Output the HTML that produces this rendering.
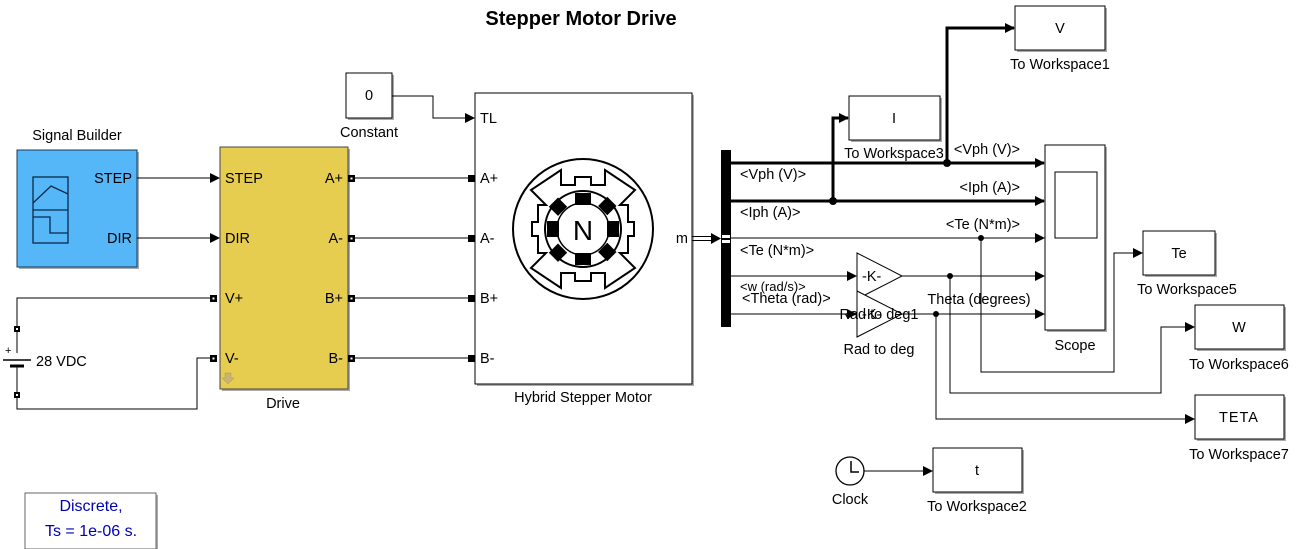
<!DOCTYPE html>
<html><head><meta charset="utf-8"><style>
html,body{margin:0;padding:0;background:#fff;}
svg{display:block;font-family:"Liberation Sans",Arial,sans-serif;}
text{font-size:14.5px;fill:#000;}
</style></head><body>
<svg width="1296" height="549" viewBox="0 0 1296 549" xmlns="http://www.w3.org/2000/svg">
<defs>
<marker id="a" markerWidth="10" markerHeight="10" refX="9" refY="5" orient="auto" markerUnits="userSpaceOnUse"><path d="M0,0 L10,5 L0,10 z" fill="#000"/></marker>
</defs>
<text x="581" y="25" text-anchor="middle" font-weight="bold" style="font-size:20px">Stepper Motor Drive</text>

<!-- shadows -->
<g fill="#aaa">
<rect x="19" y="152" width="120" height="117"/>
<rect x="222" y="149" width="128" height="242"/>
<rect x="477" y="95" width="217" height="291"/>
<rect x="348" y="75" width="46" height="45"/>
<rect x="1017" y="8" width="90" height="44"/>
<rect x="851" y="98" width="91" height="44"/>
<rect x="1047" y="147" width="60" height="185"/>
<rect x="1145" y="233" width="72" height="44"/>
<rect x="1197" y="307" width="89" height="44"/>
<rect x="1197" y="397" width="89" height="44"/>
<rect x="935" y="450" width="89" height="44"/>
<rect x="27" y="495" width="131" height="56"/>
</g>

<!-- Signal builder -->
<rect x="17" y="150" width="120" height="117" fill="#55b6f8" stroke="#1a3a5a"/>
<g stroke="#0a2a4a" fill="none" stroke-width="1.3">
<rect x="33" y="177" width="35" height="66"/>
<line x1="33" y1="210" x2="68" y2="210"/>
<polyline points="33,203 51,186 68,194"/>
<polyline points="33,217 50,217 50,233 68,233"/>
</g>
<text x="77" y="140" text-anchor="middle">Signal Builder</text>
<text x="132" y="183" text-anchor="end" fill="#0a2a4a">STEP</text>
<text x="132" y="243" text-anchor="end" fill="#0a2a4a">DIR</text>

<!-- Drive -->
<rect x="220" y="147" width="128" height="242" fill="#e6cd50" stroke="#444"/>
<text x="225" y="183">STEP</text>
<text x="225" y="243">DIR</text>
<text x="225" y="303">V+</text>
<text x="225" y="363">V-</text>
<text x="343" y="183" text-anchor="end">A+</text>
<text x="343" y="243" text-anchor="end">A-</text>
<text x="343" y="303" text-anchor="end">B+</text>
<text x="343" y="363" text-anchor="end">B-</text>
<path d="M225,373 h6 v5 h3 l-6,6 l-6,-6 h3 z" fill="#c8b470" stroke="#a89860" stroke-width="0.5"/>
<text x="283" y="408" text-anchor="middle">Drive</text>

<!-- wires drive in -->
<g stroke="#000" fill="none" stroke-width="1">
<line x1="137" y1="178" x2="219" y2="178" marker-end="url(#a)"/>
<line x1="137" y1="238" x2="219" y2="238" marker-end="url(#a)"/>
<polyline points="210,298 17,298 17,327"/>
<polyline points="210,358 197,358 197,409 17,409 17,396"/>
<line x1="17" y1="331" x2="17" y2="353"/>
<line x1="17" y1="365" x2="17" y2="392"/>
<line x1="3" y1="360" x2="31" y2="360" stroke-width="1.5"/>
<line x1="10" y1="366" x2="24" y2="366" stroke-width="3"/>
</g>
<text x="5" y="354" style="font-size:11px">+</text>
<text x="36" y="366">28 VDC</text>
<g fill="#000">
<rect x="14" y="326" width="6" height="6"/><rect x="14" y="392" width="6" height="6"/>
<rect x="210" y="295" width="7" height="7"/><rect x="210" y="355" width="7" height="7"/>
</g>
<g fill="#fff"><rect x="16" y="328" width="2" height="2"/><rect x="16" y="394" width="2" height="2"/>
<rect x="212.5" y="297.5" width="2" height="2"/><rect x="212.5" y="357.5" width="2" height="2"/></g>

<!-- drive to motor -->
<g stroke="#000" stroke-width="1">
<line x1="355" y1="178" x2="470" y2="178"/>
<line x1="355" y1="238" x2="470" y2="238"/>
<line x1="355" y1="298" x2="470" y2="298"/>
<line x1="355" y1="358" x2="470" y2="358"/>
</g>
<g fill="#000">
<rect x="348" y="175" width="7" height="7"/><rect x="348" y="235" width="7" height="7"/>
<rect x="348" y="295" width="7" height="7"/><rect x="348" y="355" width="7" height="7"/>
<rect x="468" y="175" width="7" height="7"/><rect x="468" y="235" width="7" height="7"/>
<rect x="468" y="295" width="7" height="7"/><rect x="468" y="355" width="7" height="7"/>
</g>
<g fill="#fff">
<rect x="350.5" y="177.5" width="2" height="2"/><rect x="350.5" y="237.5" width="2" height="2"/>
<rect x="350.5" y="297.5" width="2" height="2"/><rect x="350.5" y="357.5" width="2" height="2"/>
</g>

<!-- Constant -->
<rect x="346" y="73" width="46" height="45" fill="#fff" stroke="#000"/>
<text x="369" y="100" text-anchor="middle">0</text>
<text x="369" y="137" text-anchor="middle">Constant</text>
<polyline points="392,96 433,96 433,118 474,118" fill="none" stroke="#000" marker-end="url(#a)"/>

<!-- Motor -->
<rect x="475" y="93" width="217" height="291" fill="#fff" stroke="#000"/>
<text x="480" y="123">TL</text>
<text x="480" y="183">A+</text>
<text x="480" y="243">A-</text>
<text x="480" y="303">B+</text>
<text x="480" y="363">B-</text>
<text x="688" y="243" text-anchor="end">m</text>
<text x="583" y="402" text-anchor="middle">Hybrid Stepper Motor</text>
<g stroke="#000" fill="none" stroke-width="2">
<circle cx="583" cy="229" r="70"/>
<path d="M561,170 L561,185 L575,185 L575,177 L591,177 L591,185 L605,185 L605,170 L635,190 L620,205 L628,205 L628,222 L634,222 L634,236 L628,236 L628,253 L620,253 L635,268 L605,288 L605,273 L591,273 L591,281 L575,281 L575,273 L561,273 L561,288 L531,268 L546,253 L538,253 L538,236 L532,236 L532,222 L538,222 L538,205 L546,205 L531,190 Z"/>
<circle cx="583" cy="229" r="38"/>
<circle cx="583" cy="229" r="26" stroke-width="1.5"/>
</g>
<g fill="#000">
<rect x="575" y="193" width="16" height="12" />
<rect x="575" y="253" width="16" height="12" />
<rect x="547" y="221" width="12" height="16" />
<rect x="607" y="221" width="12" height="16" />
<rect x="552" y="200" width="13" height="13" transform="rotate(45 558 206)"/>
<rect x="601" y="200" width="13" height="13" transform="rotate(45 608 206)"/>
<rect x="552" y="246" width="13" height="13" transform="rotate(45 558 252)"/>
<rect x="601" y="246" width="13" height="13" transform="rotate(45 608 252)"/>
</g>
<text x="583" y="240" text-anchor="middle" style="font-size:28px">N</text>

<!-- m to mux double line -->
<line x1="692" y1="236.5" x2="712" y2="236.5" stroke="#000"/>
<line x1="692" y1="240.5" x2="712" y2="240.5" stroke="#000"/>
<path d="M711,233 L721,238.5 L711,244 z" fill="#000"/>
<rect x="721" y="150" width="10" height="177" fill="#000"/>
<rect x="722" y="235" width="8" height="3" fill="#fff"/><rect x="722" y="240" width="8" height="3" fill="#fff"/>

<!-- bus outputs -->
<g stroke="#000" fill="none">
<line x1="731" y1="163" x2="1044" y2="163" stroke-width="3" marker-end="url(#a)"/>
<line x1="731" y1="201" x2="1044" y2="201" stroke-width="3" marker-end="url(#a)"/>
<polyline points="947,163 947,28 1014,28" stroke-width="3" marker-end="url(#a)"/>
<polyline points="833,201 833,118 848,118" stroke-width="3" marker-end="url(#a)"/>
<line x1="731" y1="238" x2="1044" y2="238" marker-end="url(#a)"/>
<line x1="731" y1="276" x2="856" y2="276" marker-end="url(#a)"/>
<line x1="902" y1="276" x2="1044" y2="276" marker-end="url(#a)"/>
<line x1="731" y1="314" x2="856" y2="314" marker-end="url(#a)"/>
<line x1="902" y1="314" x2="1044" y2="314" marker-end="url(#a)"/>
<polyline points="981,238 981,372 1114,372 1114,253 1142,253" marker-end="url(#a)"/>
<polyline points="950,276 950,393 1161,393 1161,327 1194,327" marker-end="url(#a)"/>
<polyline points="936,314 936,419 1194,419" marker-end="url(#a)"/>
<line x1="864" y1="471" x2="932" y2="471" marker-end="url(#a)"/>
</g>
<g fill="#000">
<circle cx="947" cy="163" r="4"/><circle cx="833" cy="201" r="4"/>
<circle cx="981" cy="238" r="3"/><circle cx="950" cy="276" r="3"/><circle cx="936" cy="314" r="3"/>
</g>
<text x="740" y="179">&lt;Vph (V)&gt;</text>
<text x="740" y="217">&lt;Iph (A)&gt;</text>
<text x="740" y="255">&lt;Te (N*m)&gt;</text>
<text x="740" y="291" style="font-size:13px">&lt;w (rad/s)&gt;</text>
<text x="742" y="303">&lt;Theta (rad)&gt;</text>
<text x="1020" y="154" text-anchor="end">&lt;Vph (V)&gt;</text>
<text x="1020" y="192" text-anchor="end">&lt;Iph (A)&gt;</text>
<text x="1020" y="229" text-anchor="end">&lt;Te (N*m)&gt;</text>
<text x="979" y="304" text-anchor="middle">Theta (degrees)</text>

<!-- gains -->
<path d="M857,253 L902,276 L857,299 Z" fill="#fff" stroke="#000"/>
<text x="862" y="281">-K-</text>
<path d="M857,291 L902,314 L857,337 Z" fill="#fff" stroke="#000"/>
<text x="862" y="319">-K-</text>
<text x="879" y="319" text-anchor="middle">Rad to deg1</text>
<text x="879" y="354" text-anchor="middle">Rad to deg</text>

<!-- workspace blocks -->
<rect x="1015" y="6" width="90" height="44" fill="#fff" stroke="#000"/>
<text x="1060" y="33" text-anchor="middle">V</text>
<text x="1060" y="69" text-anchor="middle">To Workspace1</text>
<rect x="849" y="96" width="91" height="44" fill="#fff" stroke="#000"/>
<text x="894" y="123" text-anchor="middle">I</text>
<text x="894" y="158" text-anchor="middle">To Workspace3</text>

<rect x="1045" y="145" width="60" height="185" fill="#fff" stroke="#000"/>
<rect x="1055" y="172" width="42" height="66" fill="#fff" stroke="#000"/>
<text x="1075" y="350" text-anchor="middle">Scope</text>

<rect x="1143" y="231" width="72" height="44" fill="#fff" stroke="#000"/>
<text x="1179" y="258" text-anchor="middle">Te</text>
<text x="1187" y="294" text-anchor="middle">To Workspace5</text>
<rect x="1195" y="305" width="89" height="44" fill="#fff" stroke="#000"/>
<text x="1239" y="332" text-anchor="middle">W</text>
<text x="1239" y="369" text-anchor="middle">To Workspace6</text>
<rect x="1195" y="395" width="89" height="44" fill="#fff" stroke="#000"/>
<text x="1239" y="422" text-anchor="middle" letter-spacing="1">TETA</text>
<text x="1239" y="459" text-anchor="middle">To Workspace7</text>

<!-- clock -->
<circle cx="850" cy="471" r="14" fill="#fff" stroke="#000" stroke-width="1.3"/>
<polyline points="851,461 851,472 859,472" fill="none" stroke="#000" stroke-width="1.5"/>
<text x="850" y="504" text-anchor="middle">Clock</text>
<rect x="933" y="448" width="89" height="44" fill="#fff" stroke="#000"/>
<text x="977" y="475" text-anchor="middle">t</text>
<text x="977" y="511" text-anchor="middle">To Workspace2</text>

<!-- discrete -->
<rect x="25" y="493" width="131" height="56" fill="#fff" stroke="#666"/>
<text x="91" y="511" text-anchor="middle" style="font-size:16px;fill:#0000b4">Discrete,</text>
<text x="91" y="536" text-anchor="middle" style="font-size:16px;fill:#0000b4">Ts = 1e-06 s.</text>
</svg>
</body></html>
